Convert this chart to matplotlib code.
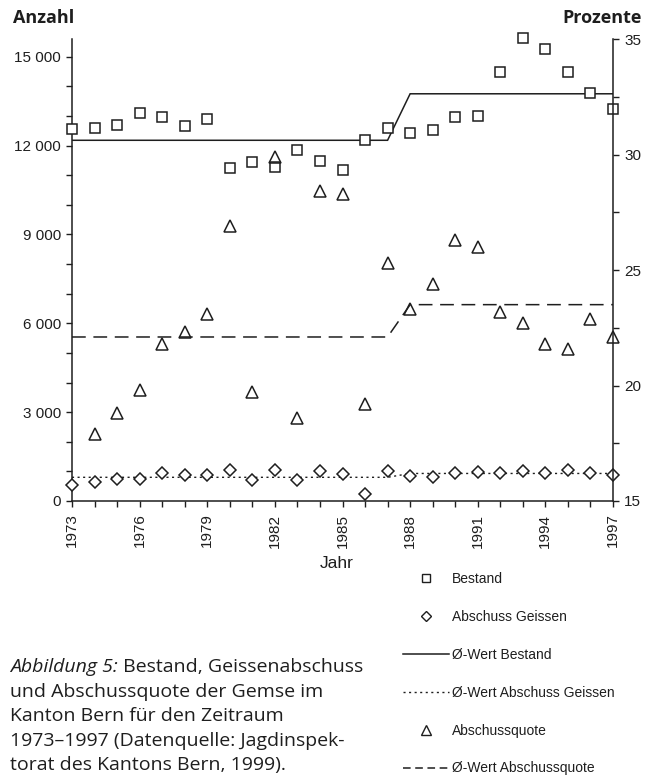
import numpy as np
import matplotlib
matplotlib.use('Agg')
from matplotlib import pyplot as plt
from matplotlib.lines import Line2D
from matplotlib.ticker import MultipleLocator

# Gemsen im Kanton Bern, 1973-1997
years = np.arange(1973, 1998)

bestand = [12560, 12590, 12710, 13100, 12960, 12660, 12890, 11250, 11460, 11290,
           11860, 11470, 11160, 12180, 12580, 12420, 12530, 12960, 13010, 14470,
           15630, 15260, 14470, 13770, 13230]

abschuss_geissen = [530, 650, 740, 740, 930, 880, 880, 1050, 710, 1050,
                    710, 1010, 900, 240, 1020, 850, 800, 930, 980, 930,
                    1020, 930, 1050, 930, 880]

# Abschussquote in Prozent (1973 ausserhalb des Bereichs)
abschussquote = [np.nan, 17.9, 18.8, 19.8, 21.8, 22.3, 23.1, 26.9, 19.7, 29.9,
                 18.6, 28.4, 28.3, 19.2, 25.3, 23.3, 24.4, 26.3, 26.0, 23.2,
                 22.7, 21.8, 21.6, 22.9, 22.1]

# Mittelwerte fuer die Perioden 1973-1987 und 1988-1997
period_split = 1987
mean_bestand = [12180, 13750]
mean_geissen = [800, 930]
mean_quote = [22.1, 23.5]

left_ticks = [0, 3000, 6000, 9000, 12000, 15000]
left_labels = ['0', '3 000', '6 000', '9 000', '12 000', '15 000']
right_ticks = [15, 20, 25, 30, 35]
year_ticks = list(range(1973, 1998, 3))


def period_line(means):
    return np.where(years <= period_split, means[0], means[1])


ink = '#1e1e1e'
tick_font = 'Liberation Sans'
text_font = 'Open Sans'

fig = plt.figure(figsize=(6.47, 7.75), dpi=100)
ax = fig.add_axes([72 / 647, 1 - 501 / 775, (613 - 72) / 647, (501 - 39) / 775])
ax2 = ax.twinx()

# Linke Achse: Bestand und Abschuss Geissen
ax.plot(years, period_line(mean_bestand), color=ink, lw=1.1, solid_joinstyle='miter')
ax.plot(years, period_line(mean_geissen), color=ink, lw=1.0, ls=(0, (1.5, 2.5)))
ax.plot(years, bestand, ls='none', marker='s', ms=7.5, mfc='white', mec=ink,
        mew=1.1, clip_on=False, zorder=5)
ax.plot(years, abschuss_geissen, ls='none', marker='D', ms=6, mfc='white', mec=ink,
        mew=1.1, clip_on=False, zorder=5)

# Rechte Achse: Abschussquote
ax2.plot(years, period_line(mean_quote), color=ink, lw=1.1, ls=(0, (9, 5)))
ax2.plot(years, abschussquote, ls='none', marker='^', ms=9, mfc='none', mec=ink,
         mew=1.1, clip_on=False, zorder=5)

ax.set_xlim(1973, 1997)
ax.set_ylim(0, 15600)
ax2.set_ylim(15, 35)

ax.set_xticks(year_ticks)
ax.set_xticklabels([str(y) for y in year_ticks], rotation=90, family=tick_font,
                   fontsize=11, color=ink)
ax.xaxis.set_minor_locator(MultipleLocator(1))
ax.set_yticks(left_ticks)
ax.set_yticklabels(left_labels, family=tick_font, fontsize=11, color=ink)
ax.yaxis.set_minor_locator(MultipleLocator(1000))
ax2.set_yticks(right_ticks)
ax2.set_yticklabels([str(t) for t in right_ticks], family=tick_font, fontsize=11,
                    color=ink)
ax2.yaxis.set_minor_locator(MultipleLocator(2.5))

for a in (ax, ax2):
    a.spines['top'].set_visible(False)
    for s in a.spines.values():
        s.set_color(ink)
        s.set_linewidth(1.1)
    a.tick_params(which='major', direction='out', length=4, width=1, color=ink, pad=4)
    a.tick_params(which='minor', direction='out', length=4, width=1, color=ink)
ax2.spines['left'].set_visible(False)
ax2.spines['bottom'].set_visible(False)
ax.spines['right'].set_visible(False)
ax.tick_params(axis='x', pad=5)

fig.text(337 / 647, 1 - 563 / 775, 'Jahr', family=tick_font, fontsize=12.5,
         color=ink, ha='center', va='center')
fig.text(13 / 647, 1 - 18 / 775, 'Anzahl', family=text_font, fontsize=13,
         fontweight='bold', color=ink, ha='left', va='center')
fig.text(642 / 647, 1 - 18 / 775, 'Prozente', family=text_font, fontsize=13,
         fontweight='bold', color=ink, ha='right', va='center')

# Legende
handles = [
    Line2D([], [], ls='none', marker='s', ms=6, mfc='white', mec=ink, mew=1),
    Line2D([], [], ls='none', marker='D', ms=5, mfc='white', mec=ink, mew=1),
    Line2D([], [], color=ink, lw=1.1),
    Line2D([], [], color=ink, lw=1.0, ls=(0, (1.5, 2.5))),
    Line2D([], [], ls='none', marker='^', ms=6.5, mfc='white', mec=ink, mew=1),
    Line2D([], [], color=ink, lw=1.1, ls=(0, (5, 3))),
]
labels = ['Bestand', 'Abschuss Geissen', 'Ø-Wert Bestand', 'Ø-Wert Abschuss Geissen',
          'Abschussquote', 'Ø-Wert Abschussquote']
leg = fig.legend(handles, labels, loc='upper left',
                 bbox_to_anchor=(403 / 647, 1 - 572 / 775), frameon=False,
                 prop={'family': tick_font, 'size': 10}, handlelength=3.3,
                 handletextpad=0.2, labelspacing=1.72, borderpad=0, borderaxespad=0)
for t in leg.get_texts():
    t.set_color(ink)

# Bildunterschrift
lines = ['und Abschussquote der Gemse im',
         'Kanton Bern für den Zeitraum',
         '1973–1997 (Datenquelle: Jagdinspek-',
         'torat des Kantons Bern, 1999).']
y0 = 1 - 667 / 775
step = 24.6 / 775
t1 = fig.text(10 / 647, y0, 'Abbildung 5:', family=text_font, fontsize=14,
              style='italic', color=ink, ha='left', va='center')
fig.canvas.draw()
bb = t1.get_window_extent()
fig.text(bb.x1 / fig.bbox.width, y0, ' Bestand, Geissenabschuss', family=text_font,
         fontsize=14, color=ink, ha='left', va='center')
for i, line in enumerate(lines):
    fig.text(10 / 647, y0 - (i + 1) * step, line, family=text_font, fontsize=14,
             color=ink, ha='left', va='center')

fig.savefig('out.png', dpi=100)
